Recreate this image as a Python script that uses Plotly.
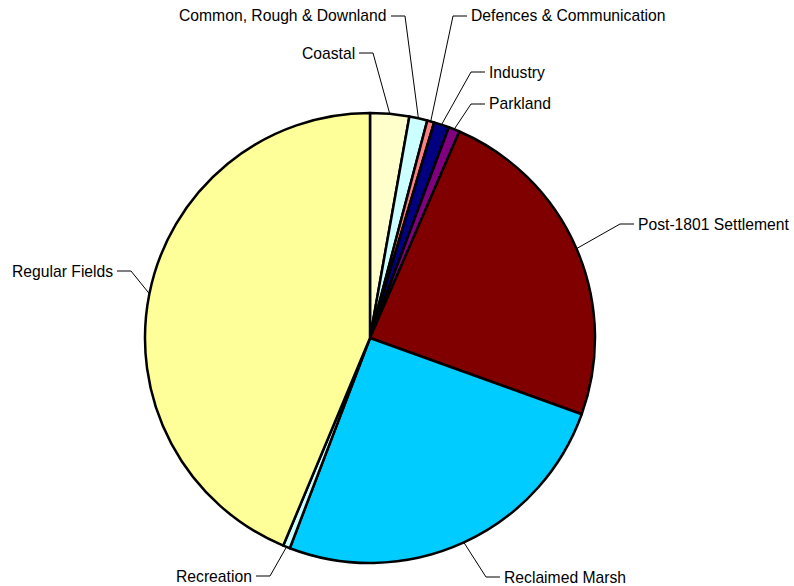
import math
import plotly.graph_objects as go

# Data
categories = [
    "Coastal",
    "Common, Rough & Downland",
    "Defences & Communication",
    "Industry",
    "Parkland",
    "Post-1801 Settlement",
    "Reclaimed Marsh",
    "Recreation",
    "Regular Fields",
]
values = [2.8, 1.3, 0.5, 1.1, 0.8, 24.0, 25.3, 0.5, 43.7]
colors = [
    "#FFFFCC", "#CCFFFF", "#FF8080", "#000080", "#800080",
    "#800000", "#00CCFF", "#CCFFFF", "#FFFF99",
]

# Layout (pixels)
W, H = 794, 586
CX, CY, R = 370, 338, 225

# label anchor points (x, y, side) where side is the text anchor
label_pos = [
    (357, 53, "right"),
    (389, 16, "right"),
    (469, 16, "left"),
    (487, 72, "left"),
    (487, 104, "left"),
    (636, 224, "left"),
    (502, 577, "left"),
    (254, 576, "right"),
    (115, 271, "right"),
]


def px(x):
    return x / W


def py(y):
    return 1 - y / H


fig = go.Figure()

fig.add_trace(
    go.Pie(
        labels=categories,
        values=values,
        sort=False,
        direction="clockwise",
        rotation=0,
        marker=dict(colors=colors, line=dict(color="#000000", width=2.5)),
        textinfo="none",
        hoverinfo="label+percent",
        domain=dict(
            x=[px(CX - R), px(CX + R)],
            y=[py(CY + R), py(CY - R)],
        ),
    )
)

# leader lines + labels
total = sum(values)
cum = 0
shapes = []
annotations = []
for name, v, (lx, ly, side) in zip(categories, values, label_pos):
    mid = (cum + v / 2) / total * 2 * math.pi
    cum += v
    rx = CX + R * math.sin(mid)
    ry = CY - R * math.cos(mid)
    if side == "right":
        x0, x1 = lx + 2, lx + 16
    else:
        x0, x1 = lx - 2, lx - 16
    shapes.append(
        dict(
            type="path",
            xref="paper",
            yref="paper",
            path=f"M {px(x0)},{py(ly)} L {px(x1)},{py(ly)} L {px(rx)},{py(ry)}",
            line=dict(color="#000000", width=1),
        )
    )
    annotations.append(
        dict(
            text=name,
            xref="paper",
            yref="paper",
            x=px(lx),
            y=py(ly),
            xanchor=side,
            yanchor="middle",
            showarrow=False,
            font=dict(family="Liberation Sans, Arial", size=15.7, color="#000000"),
        )
    )

fig.update_layout(
    width=W,
    height=H,
    margin=dict(l=0, r=0, t=0, b=0),
    paper_bgcolor="#FFFFFF",
    plot_bgcolor="#FFFFFF",
    showlegend=False,
    shapes=shapes,
    annotations=annotations,
)

# page body has an 8px default margin; drop it so the figure fills the window
fig.write_html(
    "out.html",
    config={"displayModeBar": False},
    post_script="document.body.style.margin='0';document.body.style.overflow='hidden';",
)
